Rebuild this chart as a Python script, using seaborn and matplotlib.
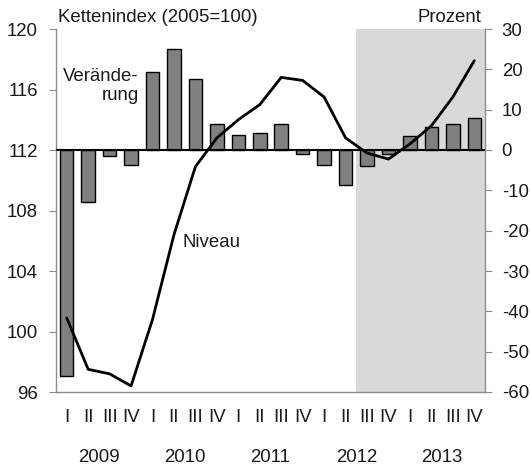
import numpy as np
import pandas as pd
import matplotlib
matplotlib.use("Agg")
import matplotlib.pyplot as plt
import matplotlib.transforms as mtransforms
import seaborn as sns

years = ["2009", "2010", "2011", "2012", "2013"]
quarters = ["I", "II", "III", "IV"]
# Veränderung in Prozent (bars, right axis)
veraenderung = [-56, -13, -1.5, -3.6, 19.3, 25, 17.7, 6.5, 3.6, 4.3,
                6.5, -1.1, -3.6, -8.8, -4, -1.1, 3.4, 5.6, 6.5, 7.9]
# Kettenindex 2005=100 (line, left axis)
niveau = [100.9, 97.5, 97.2, 96.4, 100.8, 106.4, 110.9, 112.8, 114.0, 115.0,
          116.8, 116.6, 115.5, 112.8, 111.8, 111.4, 112.4, 113.6, 115.5, 117.9]
prognose_start = 14  # first forecast quarter (2012 III)

sns.set_style("white")
plt.rcParams['font.family'] = ['Liberation Sans', 'DejaVu Sans']
plt.rcParams['axes.unicode_minus'] = False
fs = 13.4
txt = "#1a1a1a"
grey = "#8c8c8c"

n = len(veraenderung)
df = pd.DataFrame({"idx": np.arange(n), "pct": veraenderung, "niveau": niveau})

fig = plt.figure(figsize=(5.3, 4.69), dpi=100)
ax = fig.add_axes([56 / 530, 1 - 392 / 469, (485 - 56) / 530, (392 - 29) / 469])

ax.axvspan(prognose_start - 0.5, n - 0.5, color="#d9d9d9", lw=0, zorder=0)
sns.barplot(data=df, x="idx", y="pct", ax=ax, color="#808080", saturation=1,
            width=0.63, edgecolor="black", linewidth=1, zorder=2)
ax.axhline(0, color="black", lw=1.5, zorder=3)
ax.set_ylim(-60, 30)
ax.set_yticks(range(-60, 31, 10))
ax.set_xlim(-0.5, n - 0.5)

ax2 = ax.twinx()
sns.lineplot(data=df, x="idx", y="niveau", ax=ax2, color="black", lw=2)
ax2.set_ylim(96, 120)
ax2.set_yticks(range(96, 121, 4))
ax2.set_xlim(-0.5, n - 0.5)

ax.yaxis.tick_right()
ax2.yaxis.tick_left()
for a in (ax, ax2):
    a.set_xlabel("")
    a.set_ylabel("")
ax.yaxis.set_label_position("right")

for s in ax2.spines.values():
    s.set_visible(False)
ax.spines["top"].set_visible(False)
for k in ("left", "right", "bottom"):
    ax.spines[k].set_color(grey)
    ax.spines[k].set_linewidth(1)

# x axis: year boundaries as major ticks, quarters as minor labels
ax.set_xticks(np.arange(-0.5, n, 4))
ax.set_xticklabels([])
ax.set_xticks(np.arange(n), minor=True)
ax.set_xticklabels(quarters * len(years), minor=True)
ax.tick_params(axis="x", which="major", length=5, color=grey, direction="out")
ax.tick_params(axis="x", which="minor", length=0, pad=12, labelsize=fs, labelcolor=txt)
ax.tick_params(axis="y", length=5, color=grey, pad=7, labelsize=fs, labelcolor=txt,
               left=False, right=True)
ax2.tick_params(axis="y", length=5, color=grey, pad=8, labelsize=fs, labelcolor=txt,
                left=True, right=False)
ax2.tick_params(axis="x", bottom=False, labelbottom=False)

trans = mtransforms.blended_transform_factory(ax.transData, fig.transFigure)
for i, y in enumerate(years):
    ax.text(i * 4 + 1.5, 1 - 457 / 469, y, transform=trans, ha="center", va="center",
            fontsize=fs, color=txt)

fig.text(58 / 530, 1 - 17 / 469, "Kettenindex (2005=100)", ha="left", va="center",
         fontsize=fs, color=txt)
fig.text(481 / 530, 1 - 17 / 469, "Prozent", ha="right", va="center",
         fontsize=fs, color=txt)
fig.text(139 / 530, 1 - 86 / 469, "Verände-\nrung", ha="right", va="center",
         fontsize=fs, color=txt, linespacing=1.1, multialignment="right")
fig.text(183 / 530, 1 - 242 / 469, "Niveau", ha="left", va="center",
         fontsize=fs, color=txt)

fig.savefig("out.png", dpi=100)
